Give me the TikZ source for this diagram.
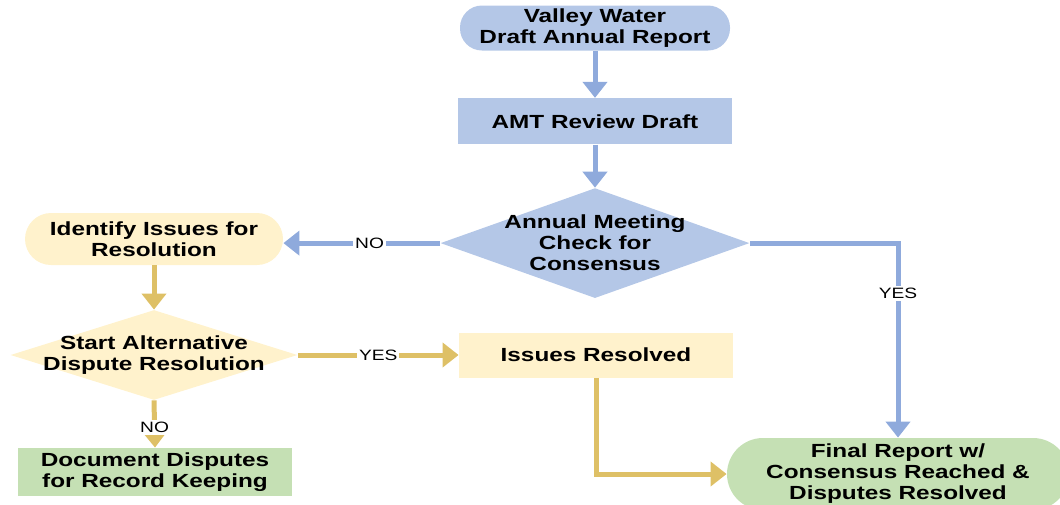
\documentclass[tikz,border=0pt]{standalone}
\usepackage{fontspec}
\setmainfont{Liberation Sans}[FakeStretch=1.28]
\usetikzlibrary{shapes, arrows.meta, positioning}
\definecolor{bluefill}{RGB}{180,199,231}
\definecolor{blueline}{RGB}{143,170,220}
\definecolor{goldfill}{RGB}{255,242,204}
\definecolor{goldline}{RGB}{222,192,102}
\definecolor{greenfill}{RGB}{197,224,180}

\begin{document}
\begin{tikzpicture}[x=0.5pt, y=-0.5pt,
    font=\bfseries\fontsize{9.5}{10.5}\selectfont,
    box/.style = {rectangle, align=center, inner sep=0pt},
    pill/.style = {box, rounded corners=11pt},
    choice/.style = {diamond, inner sep=0pt},
    inside/.style = {align=center, font=\bfseries\fontsize{9.5}{10.5}\selectfont},
    blueflow/.style = {draw=blueline, line width=2.5pt, -{Triangle[width=12pt,length=8pt]}},
    goldflow/.style = {draw=goldline, line width=2.5pt, -{Triangle[width=12pt,length=8pt]}},
    lbl/.style = {fill=white, inner sep=1pt, font=\mdseries\fontsize{7.5}{8}\selectfont}]
    \useasboundingbox (0,0) rectangle (1060,504);

    \node[pill, fill=bluefill, minimum width=135pt, minimum height=22.5pt] (start) at (595,28) {Valley Water\\Draft Annual Report};
    \node[box, fill=bluefill, minimum width=137pt, minimum height=23pt] (amt) [below=23.5pt of start] {AMT Review Draft};
    \node[choice, fill=bluefill, minimum width=154.5pt, minimum height=55pt,
          label={[inside]center:Annual Meeting\\Check for\\Consensus}] (meet) [below=21.5pt of amt] {};

    \node[pill, fill=goldfill, minimum width=129pt, minimum height=26pt, rounded corners=13pt] (ident) at (154,239) {Identify Issues for\\Resolution};
    \node[choice, fill=goldfill, minimum width=143.5pt, minimum height=45pt,
          label={[inside]center:Start Alternative\\Dispute Resolution}] (adr) at (154,355) {};
    \node[box, fill=goldfill, minimum width=137pt, minimum height=22.5pt] (issues) at (596,355) {Issues Resolved};
    \node[box, fill=greenfill, minimum width=137pt, minimum height=24pt] (doc) at (155,472) {Document Disputes\\for Record Keeping};
    \node[pill, fill=greenfill, minimum width=171pt, minimum height=36pt, rounded corners=18pt] (final) at (898,474) {Final Report w/\\Consensus Reached \&\\Disputes Resolved};

    \draw[blueflow] (start) -- (amt);
    \draw[blueflow] (amt) -- (meet);
    \draw[blueflow] (meet.west) -- node[lbl, pos=0.45] {NO} (ident.east |- meet.west);
    \draw[blueflow] (meet.east) -| node[lbl, pos=0.63] {YES} (final.north);
    \draw[goldflow] (ident) -- (adr);
    \draw[goldflow] (adr.east) -- node[lbl] {YES} (issues.west);
    \draw[goldflow] (adr.south) -- node[lbl, pos=0.58] {NO} (doc.north);
    \draw[goldflow] (issues.south) |- (final.west);
\end{tikzpicture}
\end{document}
